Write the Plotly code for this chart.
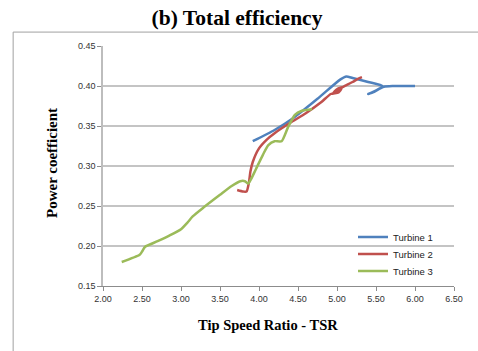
import plotly.graph_objects as go

# Turbine 1 (blue)
t1_x = [3.92, 4.20, 4.44, 4.75, 5.04, 5.12, 5.20, 5.40, 5.58, 5.45, 5.40, 5.46, 5.60, 5.72, 6.00]
t1_y = [0.331, 0.345, 0.360, 0.384, 0.408, 0.412, 0.410, 0.405, 0.400, 0.392, 0.390, 0.392, 0.399, 0.400, 0.400]

# Turbine 2 (red)
t2_x = [3.72, 3.80, 3.84, 3.87, 3.89, 3.92, 4.00, 4.10, 4.20, 4.40, 4.60, 4.80, 4.92, 5.02, 5.06, 4.95, 5.00, 5.08, 5.12, 5.20, 5.27, 5.32]
t2_y = [0.270, 0.268, 0.268, 0.279, 0.293, 0.305, 0.322, 0.333, 0.341, 0.354, 0.366, 0.380, 0.390, 0.392, 0.397, 0.391, 0.396, 0.399, 0.401, 0.405, 0.409, 0.411]

# Turbine 3 (green)
t3_x = [2.24, 2.47, 2.50, 2.54, 2.70, 2.85, 3.00, 3.08, 3.15, 3.30, 3.50, 3.65, 3.76, 3.82, 3.86, 3.90, 3.96, 4.05, 4.12, 4.20, 4.29, 4.37, 4.46, 4.55, 4.68]
t3_y = [0.180, 0.189, 0.193, 0.199, 0.206, 0.213, 0.221, 0.229, 0.237, 0.249, 0.264, 0.275, 0.281, 0.281, 0.278, 0.284, 0.296, 0.314, 0.326, 0.331, 0.331, 0.348, 0.364, 0.369, 0.371]

x_ticks = [2.0, 2.5, 3.0, 3.5, 4.0, 4.5, 5.0, 5.5, 6.0, 6.5]
y_ticks = [0.15, 0.20, 0.25, 0.30, 0.35, 0.40, 0.45]

series = [
    ("Turbine 1", t1_x, t1_y, "#4F81BD", "legend"),
    ("Turbine 2", t2_x, t2_y, "#C0504D", "legend2"),
    ("Turbine 3", t3_x, t3_y, "#9BBB59", "legend3"),
]

fig = go.Figure()
for name, xs, ys, col, lg in series:
    fig.add_trace(go.Scatter(x=xs, y=ys, mode="lines", name=name, legend=lg,
                             line=dict(color=col, width=2.5, shape="spline", smoothing=0.6)))

tickfont = dict(family="Liberation Sans", size=9, color="#333333")
legfont = dict(family="Liberation Sans", size=9.5, color="#222222")

def leg(ypix):
    return dict(x=(353 - 103) / 351, y=(286 - ypix) / 240, xanchor="left", yanchor="middle",
                font=legfont, bgcolor="rgba(0,0,0,0)", borderwidth=0)

fig.update_layout(
    width=478, height=351,
    margin=dict(l=103, r=24, t=46, b=65),
    paper_bgcolor="white", plot_bgcolor="white",
    showlegend=True,
    legend=leg(237), legend2=leg(254), legend3=leg(271),
    title=dict(text="<b>(b) Total efficiency</b>", x=237 / 478, xref="container",
               y=1 - 17 / 351, yref="container", xanchor="center", yanchor="middle",
               font=dict(family="Liberation Serif", size=21.5, color="black")),
    xaxis=dict(range=[2.0, 6.5], tickvals=x_ticks, ticktext=[f"{v:.2f}" for v in x_ticks],
               showgrid=False, zeroline=False, showline=True, linecolor="#8C8C8C", linewidth=1,
               ticks="outside", ticklen=4, tickcolor="#8C8C8C", tickfont=tickfont),
    yaxis=dict(range=[0.15, 0.45], tickvals=y_ticks, ticktext=[f"{v:.2f}" for v in y_ticks],
               showgrid=True, gridcolor="#C4C4C4", gridwidth=1.5, zeroline=False,
               showline=True, linecolor="#BDBDBD", linewidth=1.5,
               ticks="outside", ticklen=4, tickcolor="#8C8C8C", tickfont=tickfont),
    annotations=[
        dict(text="<b>Power coefficient</b>", x=(52 - 103) / 351, y=(286 - 163) / 240,
             xref="paper", yref="paper",
             textangle=-90, showarrow=False, xanchor="center", yanchor="middle",
             font=dict(family="Liberation Serif", size=15, color="black")),
        dict(text="<b>Tip Speed Ratio - TSR</b>", x=(267.5 - 103) / 351, y=(286 - 325) / 240,
             xref="paper", yref="paper",
             showarrow=False, xanchor="center", yanchor="middle",
             font=dict(family="Liberation Serif", size=14.5, color="black")),
    ],
    shapes=[
        dict(type="line", xref="paper", yref="paper", x0=-0.256, x1=1.2, y0=1.058, y1=1.058,
             line=dict(color="#A0A0A0", width=1)),
        dict(type="line", xref="paper", yref="paper", x0=-0.256, x1=-0.256, y0=1.058, y1=-0.4,
             line=dict(color="#A0A0A0", width=1)),
    ],
)

fig.write_html("out.html")
